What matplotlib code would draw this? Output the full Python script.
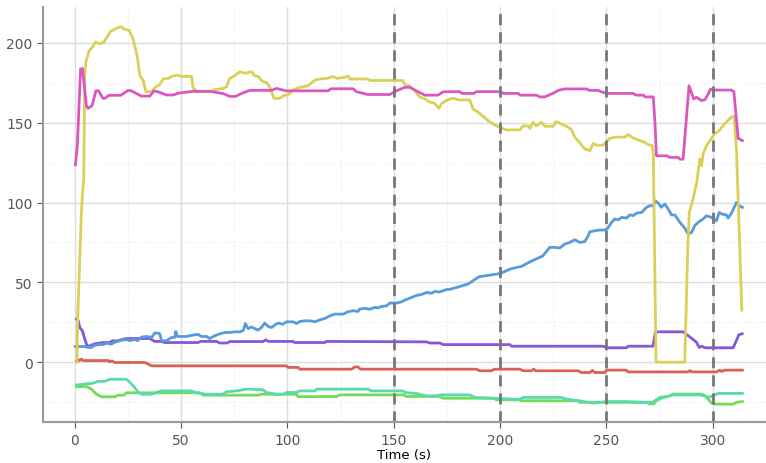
import numpy as np
import matplotlib
matplotlib.use("Agg")
import matplotlib.pyplot as plt
from matplotlib.ticker import MultipleLocator
import seaborn as sns

# breakpoints (time in s, value)
t_pink = [0.3, 1.2, 2.7, 3.6, 5.5, 6.3, 8.2, 9.9, 11.1, 13.3, 14.1, 16.1, 21.6, 25.1, 26.6, 31.3, 35.3,
          37.3, 40, 43.1, 46.2, 48.6, 55.6, 63.5, 69.7, 73, 75.5, 79.2, 82.3, 92.5, 94.8, 99.4, 119.1,
          120.4, 130.9, 132.5, 137.9, 148.1, 151.2, 155.2, 157.5, 160.6, 164.6, 170.8, 173.2, 181,
          182, 187.5, 188.9, 200, 201.5, 208.5, 209.3, 217, 218.6, 221, 225.7, 227.3, 230.4, 240.6,
          242, 245.9, 247.5, 250, 262.4, 264, 267.5, 268, 272, 272.8, 273.5, 278.2, 279.8, 283.7,
          284.5, 286, 286.5, 288.8, 291, 292.3, 294.7, 296.3, 297.8, 298.9, 300, 308.7, 309.9,
          311.9, 313.9]
v_pink = [123.7, 135.6, 183.7, 184, 160.3, 159, 161, 170, 170, 165.3, 165.3, 167.2, 167.2, 170.3, 170,
          166.7, 166.7, 170, 169, 167.4, 167.4, 168.5, 169.7, 169.7, 168.3, 166.5, 166.5, 168.8, 170.3,
          170.3, 171.5, 170, 170, 171.3, 171.3, 169.4, 167.7, 167.7, 170, 172.2, 172.2, 170, 167.3,
          167.3, 169.4, 169.5, 168.4, 168.4, 169.5, 169.5, 168.4, 168.4, 167.3, 167.3, 166.2, 166.2,
          169, 170.3, 171.2, 171.2, 170.3, 170.3, 169.5, 168.4, 168.4, 167.3, 167.3, 166.2, 166.2,
          150, 129.3, 129.3, 128.3, 128.3, 127.2, 127.2, 135, 173.2, 164.9, 166, 163.9, 164.5, 168,
          171.1, 170.5, 170.5, 169.5, 140.2, 138.8]

t_yellow = [1, 1.3, 2, 3.1, 3.6, 4.2, 4.7, 5.2, 6.7, 8.6, 9.7, 11.4, 13.3, 14.9, 16.8, 18, 19.6, 22,
            23.2, 25.5, 27.4, 29.3, 30.6, 32.2, 33.4, 36.1, 37.6, 40, 41.5, 43.9, 45.5, 48.6, 50.1,
            54.9, 55.6, 57.2, 63.5, 65.4, 69.7, 71.3, 72.9, 75.2, 77.6, 80, 83.1, 84.6, 86.3, 87.8,
            90.2, 91.7, 93.6, 96.4, 98, 100.3, 102.7, 105.9, 109.7, 112.9, 115.3, 119.1, 121.5, 123.1,
            127, 128.5, 129.3, 134, 137.9, 138.7, 149.7, 154.1, 155.2, 157.2, 159.9, 162.2, 164.6,
            166.9, 169.3, 171.2, 172.4, 174.7, 175.5, 177.9, 181, 185.7, 187.3, 189.7, 192, 194.3,
            196.7, 199.8, 203, 209.3, 210.8, 213.2, 214, 215.5, 217, 219.4, 221, 224.9, 226.4, 228.8,
            231.2, 233.5, 235.1, 237.2, 239.8, 242.2, 243.7, 245.3, 248.4, 251.6, 253.9, 258.6,
            260.2, 262.6, 265.7, 268, 269.6, 271.5, 272, 273.3, 286.8, 288.2, 288.9, 290.7, 292.3,
            293.9, 294.7, 295.4, 297, 298.6, 300.9, 303.3, 304.8, 307.1, 309.2, 310, 311.1, 312.7,
            313.6]
v_yellow = [0, 25, 52, 94, 105, 115, 180, 188, 195, 198, 200.6, 199.5, 200, 203, 207.3, 208, 209.3,
            210.2, 208.6, 208, 202.5, 192, 179.5, 176.4, 169.5, 169.5, 172, 174, 177.4, 177.8, 179,
            180, 179, 179, 172, 169.5, 169.5, 170.6, 171.5, 172.5, 177.8, 179.5, 182, 181, 182,
            179.5, 179, 176.4, 175, 172.3, 165.3, 165.3, 167, 167.5, 170.7, 172.2, 173.2, 176.8,
            177.4, 178, 179, 177.8, 178.5, 179.2, 177.4, 177.4, 177.4, 176.5, 176.5, 176.5, 174,
            173.2, 170, 166, 165, 163, 162, 159, 162, 164, 164.5, 165.3, 164.3, 164.3, 158.6,
            156.6, 154, 151.4, 149.2, 147.1, 145.5, 145.5, 148, 148, 146.5, 150.3, 148, 150.3, 147.8,
            147.8, 150.7, 149.2, 147.8, 145.8, 140.9, 137.8, 133.5, 132.5, 137, 136, 136, 140.2,
            141, 141, 142.6, 140.5, 138.8, 137.7, 136.3, 135.7, 131.6, 0, 0, 70.8, 93.8, 102.2,
            111.6, 127.3, 123, 130.4, 135.6, 138.8, 143, 145.4, 148.2, 151.4, 154, 154, 133.5, 70.8,
            32.6]

t_blue = [0.3, 4.7, 6.3, 8, 8.6, 11, 13.3, 14.9, 17.2, 18.8, 21.2, 24.3, 26, 28.2, 29.5, 31.3, 33.7,
          36.1, 37.6, 39.2, 40, 40.8, 43, 45.5, 47, 47.5, 48.3, 52.5, 54.9, 58, 59.5, 61.9, 63.5,
          65.1, 67.4, 70.5, 73, 75.2, 77.6, 79.2, 80.2, 81.5, 83.1, 84.6, 86.2, 87.8, 89.3, 90.9,
          92.5, 94, 95.6, 97.9, 99.5, 102.6, 104.2, 105.8, 108.1, 110.5, 112.9, 115.3, 117.6, 119.9,
          122.3, 126.2, 128.5, 130.9, 133.2, 134, 136.3, 138.7, 141.1, 142.7, 144.2, 146.6, 148.1,
          151.2, 153.6, 155.2, 157.5, 160.7, 163, 165.4, 167.7, 169.3, 171.6, 175, 176.3, 180, 185,
          190, 195, 200, 205, 210, 215, 220, 223.3, 225.7, 228, 230.4, 232.7, 235.1, 237.5, 239.8,
          241.4, 242.2, 244.5, 246.9, 249.2, 250.4, 252.4, 253.9, 255.5, 257.1, 259.4, 261, 262.6,
          264.1, 266.5, 268.8, 270.4, 272, 273, 274.3, 275.8, 277.4, 279, 280.6, 282.2, 284.5,
          286.9, 288.4, 290, 291.5, 293.1, 295.4, 297, 299.4, 301.7, 303, 304.2, 306.3, 307.2,
          308.8, 311.1, 312.4, 313.9]
v_blue = [9.8, 9.8, 9.2, 9.2, 10.2, 11, 11, 11.9, 11.3, 12.5, 13.5, 14.2, 13.5, 14.2, 13.5, 15.7, 16.1,
          15.5, 18.3, 18.2, 17.6, 13.4, 13.4, 15.5, 15.5, 19.2, 16.1, 16.1, 16.8, 17.4, 16.1, 16.1,
          14.8, 16.1, 17.4, 18.6, 18.6, 19, 19, 19.8, 24.2, 21, 22.1, 21, 20.1, 21.7, 24.5, 22.4,
          21.7, 23.2, 24.5, 23.8, 25.3, 25.3, 24.2, 25.5, 25.9, 25.9, 25.3, 26.5, 27.4, 29, 30.1,
          30.1, 31.6, 32.2, 31.8, 33.3, 33.7, 33.2, 34.3, 34, 34.9, 35.3, 37, 37, 37.8, 38.9, 40.1,
          41.8, 42.4, 43.7, 43.2, 44.3, 44, 45.6, 45.6, 47, 49, 53.5, 54.5, 55.5, 58.5, 60, 63.5,
          66.5, 71.9, 71.9, 71.5, 74, 75, 76.7, 75, 75.6, 79.2, 81.7, 82.3, 82.8, 82.8, 83.6, 87.6,
          89.7, 89.2, 90.7, 90.3, 92.3, 91.8, 93.4, 93.8, 97, 98, 98, 101.1, 99.7, 97, 99.1, 96,
          92.2, 92.2, 87.6, 83.8, 80.3, 81.3, 85.5, 87.6, 89.7, 91.7, 90.7, 88.6, 93.8, 92.8, 92.3,
          90.3, 93.4, 100.1, 98, 97]

t_purple = [0.8, 1.6, 2.35, 3.6, 4.7, 5.8, 7.1, 7.8, 9.4, 13.3, 16.5, 17.6, 20.5, 21.7, 24.3, 35.3,
            37.6, 40.8, 42.3, 58, 59, 66.6, 68.2, 71.5, 73, 88.5, 89.8, 91, 102.6, 103.4, 117.5,
            118.3, 165.4, 166.9, 171.6, 173.2, 204.5, 205.3, 248.4, 250, 259.4, 260.2, 271.9, 273,
            286, 287.5, 290, 292.3, 293.6, 294.7, 296.3, 309.6, 311.1, 312.2, 313.8]
v_purple = [27, 26, 21.7, 19.6, 14.4, 10.2, 10.2, 10.7, 11.5, 12.3, 12.3, 13.4, 13.4, 14, 14.8, 14.8,
            13, 13, 12.3, 12.3, 13, 13, 12, 12, 12.9, 12.9, 14, 13, 13, 12.3, 12.3, 13, 12.7, 12,
            12, 11, 11, 10, 10, 9, 9, 10, 10, 19, 19, 17.5, 15, 12.5, 9.2, 10, 9, 9, 13.6, 17.1, 17.8]

t_red = [0.8, 1.6, 2.3, 3.1, 3.9, 15.7, 16.5, 17.5, 18.8, 32.9, 34.5, 36.1, 99.5, 100.3, 105, 105.8,
         130.1, 131.7, 133.2, 134.3, 188.9, 190.4, 195.8, 197.5, 209.3, 210.8, 214.7, 215.8, 216.7,
         236.7, 238.2, 242.2, 243.4, 244.5, 249.2, 250, 259.4, 260.2, 288.4, 289.2, 290, 301.7,
         303.3, 304.1, 305.6, 313.9]
v_red = [0.8, 1.5, 1, 2, 1, 1, 0.2, 0.8, -0.2, -0.2, -1.2, -2.3, -2.3, -3.3, -3.3, -4.4, -4.4, -3,
         -3, -4.4, -4.4, -5.4, -5.4, -4.4, -4.4, -5.4, -5.4, -4.4, -5.4, -5.4, -6.5, -6.5, -5.2,
         -6.5, -6.5, -5, -5, -6.1, -6.1, -5.2, -6.1, -6.1, -5, -5.8, -5, -5]

t_teal = [0.8, 3.9, 8.6, 11, 14.1, 16.5, 24.3, 25.9, 28.2, 29.8, 31.3, 36.1, 38.4, 40.8, 54.9, 56.4,
          61.9, 69.7, 71.3, 75.9, 80.7, 88.5, 90.2, 94.8, 98, 99.5, 104.2, 105.8, 112.9, 113.7,
          137.9, 139.5, 154.4, 155.2, 159.1, 160.6, 165.4, 170, 172, 174.8, 185.7, 188.1, 206.1,
          209.3, 210.8, 228.8, 231.2, 237.5, 243.7, 250, 259.4, 268.8, 270.4, 272.7, 275, 278.2,
          281.3, 293.9, 296.3, 297.8, 300.1, 302.5, 313.9]
v_teal = [-14.4, -13.8, -13.2, -12, -12, -10.7, -10.7, -12.7, -15.9, -19, -20.1, -20.1, -19, -18,
          -18, -19, -20.1, -20.1, -18.6, -18, -16.9, -17.3, -19, -20.1, -20.1, -19, -19, -18, -18,
          -16.9, -16.9, -18, -18, -19, -19.5, -19.6, -21.2, -21.1, -20.5, -20.5, -20.5, -22.1,
          -23.2, -23.2, -22.1, -22.1, -23.2, -24.2, -25.7, -24.7, -24.7, -25.2, -26.3, -24.2,
          -22.1, -21.5, -20.5, -20.5, -21.1, -22.1, -21.1, -19.6, -19.6]

t_green = [0.8, 5.5, 7.8, 10.2, 12.5, 18.8, 20.4, 23, 24.3, 58.8, 60.4, 86.2, 88, 104.2, 105, 123,
           124.6, 154.4, 155.9, 171.6, 173.2, 196.7, 198.3, 209, 210, 235.9, 237.5, 270.4, 272,
           273.5, 275.8, 279.8, 281.3, 294.7, 296.3, 297.8, 299.4, 300.9, 309.6, 311.1, 313.9]
v_green = [-15.3, -15.3, -16.9, -20.1, -21.7, -21.7, -20.7, -20.7, -19.2, -19.2, -20.7, -20.7, -20.1,
           -20.1, -21.6, -21.6, -20.5, -20.5, -21.5, -21.5, -22.6, -22.6, -23.6, -23.6, -24.2, -24.2,
           -25.2, -25.2, -26.3, -24.2, -22.6, -21.1, -20, -20, -21.1, -23.2, -25.7, -26.3, -26.3,
           -25.2, -24.7]

event_times = [150, 200, 250, 300]

pal = sns.color_palette("hls", 7)
series = [
    (t_red, v_red, pal[0]),
    (t_green, v_green, pal[2]),
    (t_teal, v_teal, pal[3]),
    (t_purple, v_purple, pal[5]),
    (t_blue, v_blue, pal[4]),
    (t_yellow, v_yellow, pal[1]),
    (t_pink, v_pink, pal[6]),
]

fig = plt.figure(figsize=(7.66, 4.64), dpi=100)
ax = fig.add_axes([0.056, 0.088, 0.944, 0.895])

for t, v, c in series:
    ax.plot(t, v, color=c, lw=2)

for et in event_times:
    ax.axvline(et, color="#777777", lw=2, ls=(0, (4, 2.5)))

ax.set_xlim(-15, 325)
ax.set_ylim(-37.6, 222.6)
ax.xaxis.set_major_locator(MultipleLocator(50))
ax.yaxis.set_major_locator(MultipleLocator(50))
ax.xaxis.set_minor_locator(MultipleLocator(25))
ax.yaxis.set_minor_locator(MultipleLocator(25))
ax.grid(which="major", color="#dddddd", lw=1)
ax.grid(which="minor", color="#ebebeb", lw=0.6, ls=(0, (3, 3)))
ax.set_axisbelow(True)
ax.tick_params(which="minor", length=0)
ax.tick_params(which="major", colors="#555555", labelsize=10, length=4)
for s in ["top", "right"]:
    ax.spines[s].set_visible(False)
for s in ["left", "bottom"]:
    ax.spines[s].set_color("#999999")
    ax.spines[s].set_linewidth(1.5)
ax.set_xlabel("Time (s)", fontsize=9.5, labelpad=1)

fig.savefig("out.png", dpi=100)
